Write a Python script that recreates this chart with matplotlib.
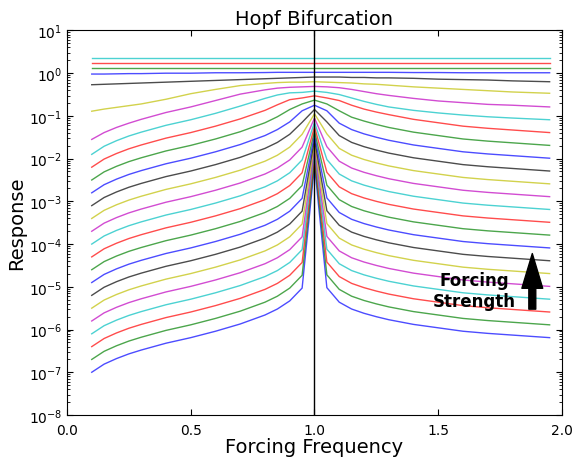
import numpy as np
import matplotlib
matplotlib.use('Agg')
import matplotlib.pyplot as plt
from matplotlib.ticker import LogLocator, NullFormatter, FormatStrFormatter

# forcing frequency (x) points
freq = [0.10, 0.15, 0.20, 0.25, 0.30, 0.40, 0.50, 0.60, 0.70, 0.80, 0.85, 0.90, 0.95,
        1.00, 1.05, 1.10, 1.15, 1.20, 1.25, 1.30, 1.40, 1.50, 1.60, 1.70, 1.80, 1.95]

# log10(response), one list per forcing strength, weakest first
resp_00 = [-7.00, -6.81, -6.68, -6.57, -6.48, -6.32, -6.19, -6.04, -5.87, -5.66, -5.52, -5.33, -5.03, -2.15, -5.02, -5.36, -5.52, -5.62, -5.70, -5.77, -5.88, -5.96, -6.04, -6.09, -6.13, -6.19]
resp_01 = [-6.70, -6.51, -6.38, -6.27, -6.18, -6.02, -5.89, -5.74, -5.57, -5.36, -5.22, -5.03, -4.73, -2.05, -4.72, -5.06, -5.22, -5.32, -5.40, -5.47, -5.58, -5.66, -5.74, -5.79, -5.83, -5.89]
resp_02 = [-6.40, -6.21, -6.08, -5.97, -5.88, -5.72, -5.59, -5.44, -5.27, -5.06, -4.92, -4.73, -4.43, -1.95, -4.42, -4.76, -4.92, -5.02, -5.10, -5.17, -5.28, -5.36, -5.44, -5.49, -5.53, -5.59]
resp_03 = [-6.10, -5.91, -5.78, -5.67, -5.58, -5.42, -5.29, -5.14, -4.97, -4.76, -4.62, -4.43, -4.13, -1.85, -4.12, -4.46, -4.62, -4.72, -4.80, -4.87, -4.98, -5.06, -5.14, -5.19, -5.23, -5.29]
resp_04 = [-5.80, -5.61, -5.48, -5.37, -5.28, -5.12, -4.99, -4.84, -4.67, -4.46, -4.32, -4.13, -3.83, -1.75, -3.82, -4.16, -4.32, -4.42, -4.50, -4.57, -4.68, -4.76, -4.84, -4.89, -4.93, -4.99]
resp_05 = [-5.50, -5.31, -5.18, -5.07, -4.98, -4.82, -4.69, -4.54, -4.37, -4.16, -4.02, -3.83, -3.53, -1.65, -3.52, -3.86, -4.02, -4.12, -4.20, -4.27, -4.38, -4.46, -4.54, -4.59, -4.63, -4.69]
resp_06 = [-5.20, -5.01, -4.88, -4.77, -4.68, -4.52, -4.39, -4.24, -4.07, -3.86, -3.72, -3.53, -3.23, -1.55, -3.22, -3.56, -3.72, -3.82, -3.90, -3.97, -4.08, -4.16, -4.24, -4.29, -4.33, -4.39]
resp_07 = [-4.90, -4.71, -4.58, -4.47, -4.38, -4.22, -4.09, -3.94, -3.77, -3.56, -3.42, -3.23, -2.93, -1.45, -2.92, -3.26, -3.42, -3.52, -3.60, -3.67, -3.78, -3.86, -3.94, -3.99, -4.03, -4.09]
resp_08 = [-4.60, -4.41, -4.28, -4.17, -4.08, -3.92, -3.79, -3.64, -3.47, -3.26, -3.12, -2.93, -2.63, -1.35, -2.62, -2.96, -3.12, -3.22, -3.30, -3.37, -3.48, -3.56, -3.64, -3.69, -3.73, -3.79]
resp_09 = [-4.30, -4.11, -3.98, -3.87, -3.78, -3.62, -3.49, -3.34, -3.17, -2.96, -2.82, -2.63, -2.33, -1.25, -2.32, -2.66, -2.82, -2.92, -3.00, -3.07, -3.18, -3.26, -3.34, -3.39, -3.43, -3.49]
resp_10 = [-4.00, -3.81, -3.68, -3.57, -3.48, -3.32, -3.19, -3.04, -2.87, -2.66, -2.52, -2.33, -2.03, -1.15, -2.02, -2.36, -2.52, -2.62, -2.70, -2.77, -2.88, -2.96, -3.04, -3.09, -3.13, -3.19]
resp_11 = [-3.70, -3.51, -3.38, -3.27, -3.18, -3.02, -2.89, -2.74, -2.57, -2.36, -2.22, -2.03, -1.73, -1.05, -1.72, -2.06, -2.22, -2.32, -2.40, -2.47, -2.58, -2.66, -2.74, -2.79, -2.83, -2.89]
resp_12 = [-3.40, -3.21, -3.08, -2.97, -2.88, -2.72, -2.59, -2.44, -2.27, -2.06, -1.92, -1.73, -1.43, -0.95, -1.42, -1.76, -1.92, -2.02, -2.10, -2.17, -2.28, -2.36, -2.44, -2.49, -2.53, -2.59]
resp_13 = [-3.10, -2.91, -2.78, -2.67, -2.58, -2.42, -2.29, -2.14, -1.97, -1.76, -1.62, -1.43, -1.15, -0.85, -1.14, -1.46, -1.62, -1.72, -1.80, -1.87, -1.98, -2.06, -2.14, -2.19, -2.23, -2.29]
resp_14 = [-2.80, -2.61, -2.48, -2.37, -2.28, -2.12, -1.99, -1.84, -1.67, -1.46, -1.32, -1.14, -0.88, -0.75, -0.88, -1.17, -1.32, -1.42, -1.50, -1.57, -1.68, -1.76, -1.84, -1.89, -1.93, -1.99]
resp_15 = [-2.50, -2.31, -2.18, -2.07, -1.98, -1.82, -1.69, -1.54, -1.37, -1.16, -1.02, -0.85, -0.72, -0.63, -0.72, -0.88, -1.03, -1.12, -1.20, -1.27, -1.38, -1.46, -1.54, -1.59, -1.63, -1.69]
resp_16 = [-2.20, -2.01, -1.88, -1.77, -1.68, -1.52, -1.39, -1.24, -1.07, -0.87, -0.74, -0.62, -0.58, -0.53, -0.58, -0.64, -0.75, -0.84, -0.91, -0.97, -1.08, -1.16, -1.24, -1.29, -1.33, -1.39]
resp_17 = [-1.90, -1.71, -1.58, -1.47, -1.38, -1.22, -1.09, -0.94, -0.77, -0.59, -0.51, -0.46, -0.45, -0.42, -0.45, -0.50, -0.58, -0.66, -0.73, -0.79, -0.87, -0.93, -0.98, -1.02, -1.05, -1.09]
resp_18 = [-1.55, -1.39, -1.27, -1.17, -1.08, -0.92, -0.79, -0.64, -0.49, -0.39, -0.35, -0.33, -0.32, -0.31, -0.32, -0.34, -0.38, -0.43, -0.48, -0.52, -0.59, -0.65, -0.69, -0.73, -0.75, -0.79]
resp_19 = [-0.89, -0.84, -0.80, -0.76, -0.72, -0.61, -0.48, -0.38, -0.29, -0.24, -0.22, -0.21, -0.21, -0.20, -0.21, -0.22, -0.23, -0.25, -0.26, -0.28, -0.32, -0.35, -0.38, -0.41, -0.44, -0.47]
resp_20 = [-0.27, -0.26, -0.25, -0.24, -0.23, -0.21, -0.19, -0.17, -0.15, -0.13, -0.12, -0.11, -0.10, -0.09, -0.09, -0.09, -0.10, -0.10, -0.11, -0.11, -0.12, -0.14, -0.15, -0.16, -0.18, -0.20]
resp_21 = [-0.02, -0.02, -0.015, -0.01, -0.01, 0.0, 0.0, 0.01, 0.01, 0.015, 0.02, 0.02, 0.02, 0.02, 0.02, 0.02, 0.02, 0.02, 0.02, 0.02, 0.015, 0.015, 0.01, 0.01, 0.01, 0.01]
resp_22 = [0.12, 0.12, 0.12, 0.12, 0.12, 0.12, 0.12, 0.12, 0.12, 0.12, 0.12, 0.12, 0.12, 0.12, 0.12, 0.12, 0.12, 0.12, 0.12, 0.12, 0.12, 0.12, 0.12, 0.12, 0.12, 0.12]
resp_23 = [0.24, 0.24, 0.24, 0.24, 0.24, 0.24, 0.24, 0.24, 0.24, 0.24, 0.24, 0.24, 0.24, 0.24, 0.24, 0.24, 0.24, 0.24, 0.24, 0.24, 0.24, 0.24, 0.24, 0.24, 0.24, 0.24]
resp_24 = [0.36, 0.36, 0.36, 0.36, 0.36, 0.36, 0.36, 0.36, 0.36, 0.36, 0.36, 0.36, 0.36, 0.36, 0.36, 0.36, 0.36, 0.36, 0.36, 0.36, 0.36, 0.36, 0.36, 0.36, 0.36, 0.36]

responses = [resp_00, resp_01, resp_02, resp_03, resp_04, resp_05, resp_06, resp_07,
             resp_08, resp_09, resp_10, resp_11, resp_12, resp_13, resp_14, resp_15,
             resp_16, resp_17, resp_18, resp_19, resp_20, resp_21, resp_22, resp_23, resp_24]

# old matplotlib colour cycle
colors = ['b', 'g', 'r', 'c', 'm', 'y', 'k']

plt.rcParams['xtick.direction'] = 'in'
plt.rcParams['ytick.direction'] = 'in'
plt.rcParams['xtick.top'] = True
plt.rcParams['ytick.right'] = True
plt.rcParams['xtick.major.size'] = 4
plt.rcParams['ytick.major.size'] = 4
plt.rcParams['ytick.minor.size'] = 2
plt.rcParams['xtick.major.pad'] = 5.5

fig = plt.figure(figsize=(5.75, 4.6), dpi=100)
ax = fig.add_axes([0.1165, 0.0957, 0.8609, 0.8359])

for i, r in enumerate(responses):
    ax.plot(freq, np.power(10.0, r), color=colors[i % 7], lw=1.0, alpha=0.7)

ax.axvline(1.0, color='k', lw=1.0)

ax.set_yscale('log')
ax.set_xlim(0, 2)
ax.set_ylim(1e-8, 1e1)
ax.set_xticks([0.0, 0.5, 1.0, 1.5, 2.0])
ax.xaxis.set_major_formatter(FormatStrFormatter('%.1f'))
ax.set_yticks([10.0 ** e for e in range(-8, 2)])
ax.yaxis.set_minor_locator(LogLocator(base=10, subs=np.arange(2, 10), numticks=30))
ax.yaxis.set_minor_formatter(NullFormatter())
ax.tick_params(labelsize=10)

ax.set_title('Hopf Bifurcation', fontsize=14, pad=5)
ax.set_xlabel('Forcing Frequency', fontsize=14, labelpad=0)
ax.set_ylabel('Response', fontsize=14, labelpad=2)

# forcing strength label and arrow
ax.text(1.645, 8.3e-6, 'Forcing\nStrength', fontsize=12, fontweight='bold',
        ha='center', va='center')
ax.annotate('', xy=(1.88, 6e-5), xytext=(1.88, 3e-6),
            arrowprops=dict(facecolor='black', edgecolor='black', width=5,
                            headwidth=15, headlength=25, shrink=0))

fig.savefig('out.png', dpi=100)
